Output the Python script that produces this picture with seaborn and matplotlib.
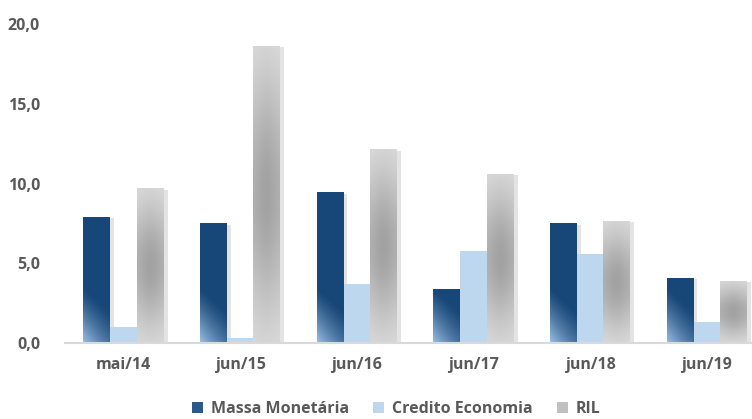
import numpy as np
import pandas as pd
import matplotlib
matplotlib.use("Agg")
import matplotlib.pyplot as plt
import matplotlib.patheffects as pe
from matplotlib.patches import Patch
from matplotlib.colors import to_rgb
import seaborn as sns

categories = ["mai/14", "jun/15", "jun/16", "jun/17", "jun/18", "jun/19"]
series_names = ["Massa Monetária", "Credito Economia", "RIL"]
massa = [7.9, 7.5, 9.45, 3.4, 7.5, 4.1]
credito = [1.0, 0.3, 3.7, 5.75, 5.55, 1.3]
ril = [9.7, 18.65, 12.15, 10.6, 7.65, 3.9]
yticks = [0, 5, 10, 15, 20]

colors = {"Massa Monetária": "#1c4b7a", "Credito Economia": "#bdd7ee", "RIL": "#c0c0c0"}

df = pd.DataFrame({
    "cat": categories * 3,
    "serie": [series_names[0]] * 6 + [series_names[1]] * 6 + [series_names[2]] * 6,
    "val": massa + credito + ril,
})

sns.set_theme(style="white")
plt.rcParams["font.family"] = ["Open Sans", "DejaVu Sans"]

fig = plt.figure(figsize=(7.52, 4.19), dpi=100)
ax = fig.add_axes([65 / 752, 1 - 343 / 419, 700 / 752, (343 - 24) / 419])

sns.barplot(data=df, x="cat", y="val", hue="serie", order=categories,
            hue_order=series_names, palette=colors, width=0.686,
            saturation=1, legend=False, ax=ax, linewidth=0, edgecolor="none")

dark = np.array(to_rgb("#174778"))
light = np.array(to_rgb("#9cbfe2"))
gl = np.array(to_rgb("#e4e4e4"))
gd = np.array(to_rgb("#a2a2a2"))

n = len(categories)
patches = list(ax.patches)
for i, p in enumerate(patches):
    s = i // n
    x0, y0 = p.get_x(), p.get_y()
    w, h = p.get_width(), p.get_height()
    if h <= 0:
        continue
    if s != 1:
        p.set_path_effects([pe.SimplePatchShadow(offset=(3, -1), shadow_rgbFace="#909090", alpha=0.25),
                            pe.Normal()])
    if s == 0:
        yy, xx = np.mgrid[0:1:100j, 0:1:40j]
        hp = h * 15.95
        d = (yy * hp + xx * 27 * 0.9)
        wgt = np.clip(1 - d / 55.0, 0, 1) ** 1.2
        wgt = wgt * (1 - 0.3 * xx)
        img = dark[None, None, :] * (1 - wgt[..., None]) + light[None, None, :] * wgt[..., None]
    elif s == 2:
        yy, xx = np.mgrid[0:1:100j, 0:1:40j]
        wy = np.exp(-((yy - 0.5) / 0.42) ** 2)
        wx = 0.75 + 0.25 * np.exp(-((xx - 0.5) / 0.4) ** 2)
        wgt = np.clip(wy * wx, 0, 1)
        img = gl[None, None, :] * (1 - wgt[..., None]) + gd[None, None, :] * wgt[..., None]
    else:
        continue
    im = ax.imshow(img, extent=[x0, x0 + w, y0, y0 + h], origin="lower",
                   aspect="auto", zorder=p.get_zorder() + 0.1, interpolation="bilinear")
    im.set_clip_path(p)

ax.set_xlim(-0.5, n - 0.5)
ax.set_ylim(0, 20)
ax.set_yticks(yticks)
ax.set_yticklabels([f"{v:.1f}".replace(".", ",") for v in yticks])
ax.set_xlabel("")
ax.set_ylabel("")

for sp in ["left", "right", "top"]:
    ax.spines[sp].set_visible(False)
ax.spines["bottom"].set_color("#d9d9d9")
ax.spines["bottom"].set_linewidth(1.5)

txtc = "#595959"
ax.tick_params(axis="y", length=0, pad=18, labelsize=11.5, labelcolor=txtc)
ax.tick_params(axis="x", which="major", length=0, pad=10, labelsize=11.5, labelcolor=txtc)
ax.set_xticks(np.arange(-0.5, n, 1.0), minor=True)
ax.tick_params(axis="x", which="minor", length=5, width=1.5, color="#d9d9d9")
for lab in ax.get_xticklabels() + ax.get_yticklabels():
    lab.set_fontweight("bold")

handles = [Patch(facecolor=colors[s], edgecolor="none") for s in series_names]
handles[0] = Patch(facecolor="#2a5a8c", edgecolor="none")
leg = fig.legend(handles, series_names, loc="center", bbox_to_anchor=(0.527, 1 - 409 / 419),
                 ncol=3, frameon=False, handlelength=0.7, handleheight=0.7,
                 handletextpad=0.5, columnspacing=1.5,
                 prop={"weight": "bold", "size": 11.5})
for t in leg.get_texts():
    t.set_color(txtc)

fig.savefig("out.png", dpi=100)
